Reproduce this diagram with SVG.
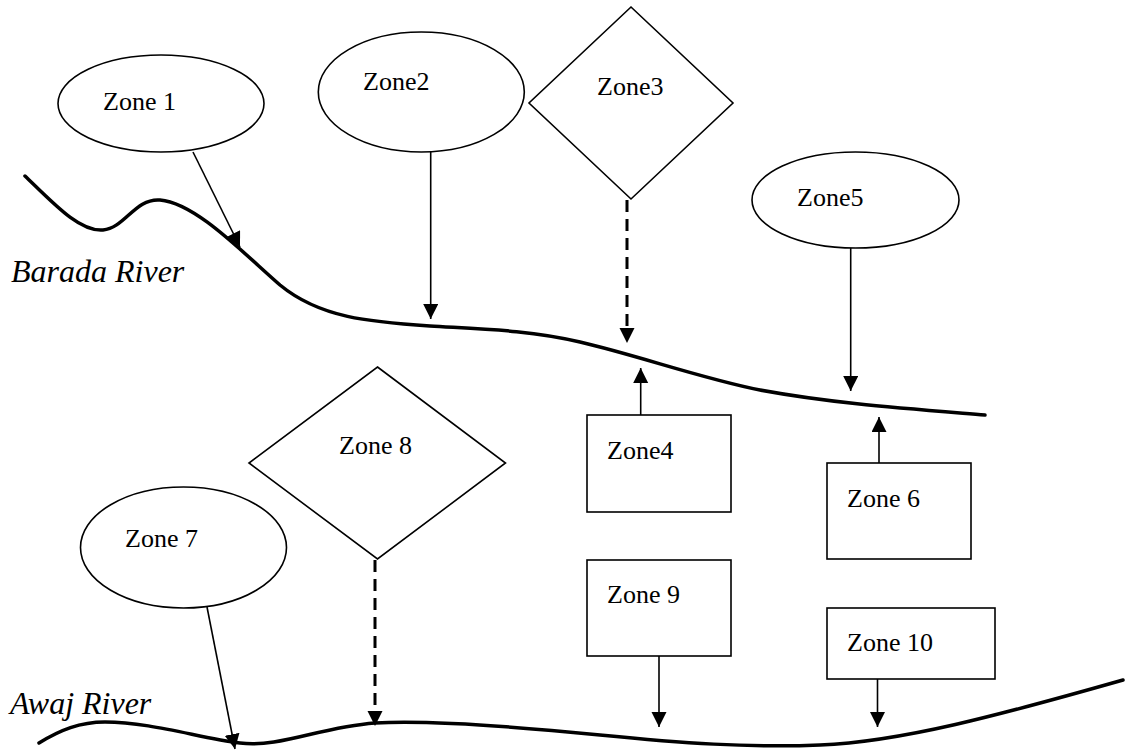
<svg xmlns="http://www.w3.org/2000/svg" width="1125" height="751" viewBox="0 0 1125 751">
<style>
.shape{fill:#fff;stroke:#000;stroke-width:1.6}
.lbl{font-family:"Liberation Serif","Times New Roman",serif;font-size:26px;fill:#000}
.river{fill:none;stroke:#000;stroke-width:3.5;stroke-linecap:round}
.rlbl{font-family:"Liberation Serif","Times New Roman",serif;font-size:32px;font-style:italic;fill:#000}
.ar{fill:none;stroke:#000;stroke-width:1.6;marker-end:url(#ah)}
.dash{fill:none;stroke:#000;stroke-width:3;stroke-dasharray:12,7;}
</style>
<defs>
<marker id="ah" markerUnits="userSpaceOnUse" markerWidth="16" markerHeight="16" refX="15" refY="7.5" orient="auto" viewBox="0 0 16 16">
<path d="M0,0 L15,7.5 L0,15 Z" fill="#000"/>
</marker>
</defs>
<rect width="1125" height="751" fill="#fff"/>
<g id="rivers">
<path class="river" d="M25,176 C55,205 80,232 103,230 C125,228 135,198 160,200 C195,203 240,250 280,285 C320,318 370,322 430,326 C480,329 530,330 580,342 C640,356 700,378 760,390 C830,403 900,408 985,415"/>
<path class="river" d="M39,743 C60,730 80,722 105,722 C150,722 200,738 240,743 C280,748 320,727 375,723 C430,720 520,727 600,735 C680,743 750,748 820,745 C900,742 1000,715 1123,680"/>
<text class="rlbl" x="11" y="282">Barada River</text>
<text class="rlbl" x="10" y="714">Awaj River</text>
</g>
<g id="zone1"><ellipse class="shape" cx="161" cy="103.5" rx="103" ry="48.5"/><text class="lbl" x="103" y="110">Zone 1</text></g>
<g id="zone2"><ellipse class="shape" cx="421.3" cy="92" rx="103" ry="60"/><text class="lbl" x="363" y="90">Zone2</text></g>
<g id="zone3"><polygon class="shape" points="631,7 733,103 631,199 529,103"/><text class="lbl" x="597" y="95">Zone3</text></g>
<g id="zone4"><rect class="shape" x="587" y="415" width="144" height="97"/><text class="lbl" x="607" y="459">Zone4</text></g>
<g id="zone5"><ellipse class="shape" cx="855.5" cy="200" rx="103.5" ry="48"/><text class="lbl" x="797" y="206">Zone5</text></g>
<g id="zone6"><rect class="shape" x="827" y="463" width="144" height="96"/><text class="lbl" x="847" y="507">Zone 6</text></g>
<g id="zone7"><ellipse class="shape" cx="183.5" cy="547.5" rx="103" ry="60.5"/><text class="lbl" x="125" y="547">Zone 7</text></g>
<g id="zone8"><polygon class="shape" points="377.5,367 505.5,463 377.5,559 249,463"/><text class="lbl" x="339" y="454">Zone 8</text></g>
<g id="zone9"><rect class="shape" x="587" y="560" width="144" height="96"/><text class="lbl" x="607" y="603">Zone 9</text></g>
<g id="zone10"><rect class="shape" x="827" y="608" width="168" height="71"/><text class="lbl" x="847" y="651">Zone 10</text></g>
<g id="connectors">
<line class="ar" x1="193" y1="152" x2="240" y2="247"/>
<line class="ar" x1="430.7" y1="152" x2="430.7" y2="319"/>
<line class="dash" x1="627" y1="200" x2="627" y2="329"/>
<path d="M619.5,328 L634.5,328 L627,343 Z" fill="#000"/>
<line class="ar" x1="640.7" y1="415" x2="640.7" y2="368"/>
<line class="ar" x1="850.7" y1="248" x2="850.7" y2="391"/>
<line class="ar" x1="879" y1="463" x2="879" y2="417"/>
<line class="ar" x1="207" y1="607" x2="235" y2="749"/>
<line class="dash" x1="375" y1="560" x2="375" y2="712"/>
<path d="M367.5,711 L382.5,711 L375,726 Z" fill="#000"/>
<line class="ar" x1="659" y1="656" x2="659" y2="727"/>
<line class="ar" x1="877.5" y1="679" x2="877.5" y2="727"/>
</g>
</svg>
